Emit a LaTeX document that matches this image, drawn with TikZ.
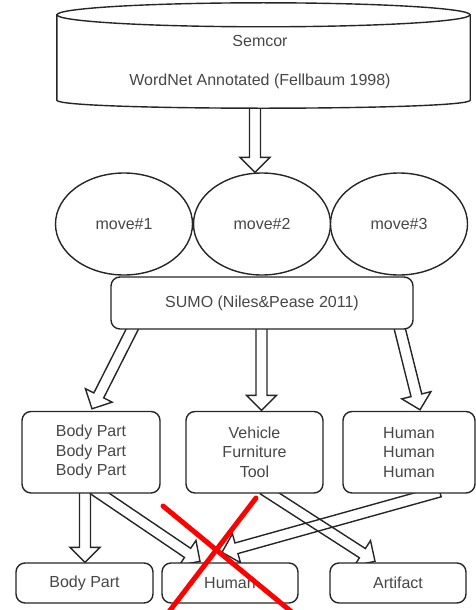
\documentclass[tikz,border=0pt]{standalone}
\usepackage{fontspec}
\setmainfont{Liberation Sans}
\usetikzlibrary{shapes.geometric,calc,backgrounds}
\newcommand\hollowarrow[2]{%
  \coordinate (hC) at ($(#2)!15pt!(#1)$);
  \draw[harr] ($(#1)!5.5pt!90:(#2)$) -- ($(hC)!5.5pt!90:(#2)$) -- ($(hC)!15pt!90:(#2)$) -- (#2)
    -- ($(hC)!15pt!-90:(#2)$) -- ($(hC)!5.5pt!-90:(#2)$) -- ($(#1)!5.5pt!-90:(#2)$) -- cycle;}
\begin{document}
\begin{tikzpicture}[x=1pt,y=-1pt,
  line/.style={draw=black!85, line width=1.4pt},
  txt/.style={text=black!72, font=\fontsize{16}{19.5}\selectfont, align=center},
  rbox/.style={line, fill=white, rounded corners=9pt, txt, inner sep=0pt},
  oval/.style={line, fill=white, ellipse, txt, inner sep=0pt, minimum width=137pt, minimum height=102pt},
  harr/.style={line, line join=miter},
  cross/.style={draw=red, line width=5pt, line cap=round}]
\useasboundingbox (0,0) rectangle (476,610);
\clip (0,0) rectangle (476,610);
% database cylinder
\node[minimum width=413pt, minimum height=85pt, inner sep=0pt] (db) at (263.5,57.5) {};
\path[line, fill=white] (db.north west) -- (db.south west)
  .. controls ($(db.south west)+(0,10.67)$) and ($(db.south east)+(0,10.67)$) .. (db.south east)
  -- (db.north east) -- cycle;
\path[line, fill=white] (db.north) ellipse [x radius=206.5pt, y radius=12pt];
\node[txt] (dblabel) at (260,62.5) {Semcor\\[19.5pt]WordNet Annotated (Fellbaum 1998)};
% senses
\node[oval] (m1) at (124,224) {move\#1};
\node[oval] (m2) at (262,224) {move\#2};
\node[oval] (m3) at (399,224) {move\#3};
\node[rbox, minimum width=302pt, minimum height=52pt] (sumo) at (262,303) {SUMO (Niles\&Pease 2011)};
% middle boxes
\node[rbox, minimum width=138pt, minimum height=81.5pt] (bp1) at (91,452.25) {Body Part\\Body Part\\Body Part};
\node[rbox, minimum width=137pt, minimum height=81.5pt] (veh) at (254.5,452.25) {Vehicle\\Furniture\\Tool};
\node[rbox, minimum width=132pt, minimum height=81.5pt] (hum) at (409,452.25) {Human\\Human\\Human};
% bottom boxes
\node[rbox, minimum width=137pt, minimum height=40pt] (bp2) at (84.5,583) {Body Part};
\node[rbox, minimum width=136pt, minimum height=40pt] (hum2) at (230,583) {Human};
\node[rbox, minimum width=136pt, minimum height=40pt] (art) at (398,583) {Artifact};
% connector end points
\coordinate (a0s) at ($(db.south)+(-8.5,0)$);
\coordinate (a0t) at ($(m2.north)+(-7,0)$);
\coordinate (a1s) at ($(sumo.south)+(-126.4,-7.1)$);
\coordinate (a1t) at ($(bp1.north)+(1,-2)$);
\coordinate (a2s) at ($(sumo.south)+(-0.5,-8)$);
\coordinate (a2t) at ($(veh.north)+(7,-0.5)$);
\coordinate (a3s) at ($(sumo.south)+(136,-8)$);
\coordinate (a3t) at ($(hum.north)+(11,-1)$);
\coordinate (b1s) at ($(bp1.south)+(-6,-8)$);
\coordinate (b1t) at ($(bp2.north)+(0.5,0)$);
\coordinate (b2s) at ($(bp1.south)+(2.4,-4.5)$);
\coordinate (b2t) at ($(hum2.north)+(-30,-1)$);
\coordinate (b3s) at ($(veh.south)+(8.8,-4.4)$);
\coordinate (b3t) at ($(art.north)+(-23,-1)$);
\coordinate (b4s) at ($(hum.south)+(30.7,-2.2)$);
\coordinate (b4t) at ($(hum2.north)+(-8,-10)$);
\begin{scope}[on background layer]
\hollowarrow{a0s}{a0t}
\hollowarrow{a1s}{a1t}
\hollowarrow{a2s}{a2t}
\hollowarrow{a3s}{a3t}
\hollowarrow{b1s}{b1t}
\hollowarrow{b2s}{b2t}
\hollowarrow{b3s}{b3t}
\hollowarrow{b4s}{b4t}
\end{scope}
% red cross
\draw[cross] (163,506) -- (293,613);
\draw[cross] (256,498) -- (168,613);
\end{tikzpicture}
\end{document}
